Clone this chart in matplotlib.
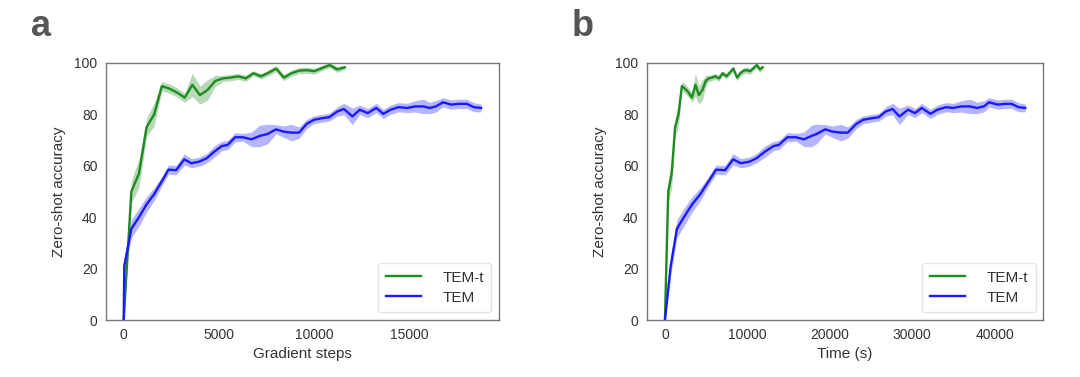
import matplotlib
matplotlib.use("Agg")
import matplotlib.pyplot as plt

plt.rcParams['font.family'] = ['Liberation Sans', 'DejaVu Sans']

# TEM-t (green) -- gradient steps / time (s), mean accuracy and band half-width
temt_steps = [0, 400, 800, 1200, 1600, 2000, 2400, 2800, 3200, 3600, 4000, 4400, 4800, 5200, 5600,
              6000, 6400, 6800, 7200, 7600, 8000, 8400, 8800, 9200, 9600, 10000, 10400, 10800, 11200, 11600]
temt_time = [0, 400, 820, 1230, 1650, 2050, 2450, 2870, 3280, 3700, 4120, 4550, 4950, 5300, 5700,
             6100, 6550, 7000, 7450, 7850, 8300, 8750, 9150, 9550, 9950, 10350, 10750, 11150, 11500, 11850]
temt_acc = [0, 50, 57, 75, 80, 91, 90, 88.5, 86.5, 91.5, 87.5, 89.5, 93, 94, 94.3,
            94.8, 94, 96, 94.8, 96.2, 97.8, 94.3, 96, 97, 97.2, 96.8, 98, 99.2, 97.5, 98.3]
temt_err = [0, 4.5, 5.5, 3.5, 4.5, 1.8, 1.8, 1.8, 1.8, 4.5, 3.5, 4, 2.2, 1.2, 1.2,
            1.2, 1.2, 1, 1, 1.2, 1.2, 1.2, 1.2, 1.2, 1.2, 1.2, 1, 1, 1.2, 0.8]

# TEM (blue)
tem_steps = [0, 30, 400, 800, 1200, 1600, 2000, 2350, 2750, 3180, 3550, 3950, 4350, 4750, 5150,
             5450, 5850, 6250, 6700, 7130, 7560, 7990, 8380, 8800, 9200, 9600, 9980, 10400, 10780,
             11200, 11550, 12000, 12380, 12800, 13250, 13620, 14000, 14420, 14860, 15300, 15720,
             16050, 16380, 16750, 17180, 17600, 18000, 18370, 18750]
tem_time = [0, 700, 1450, 2300, 3300, 4300, 5300, 6200, 7300, 8280, 9200, 10250, 11090, 12130, 13180,
            13810, 14850, 15900, 16860, 17780, 18410, 19460, 20290, 21340, 22180, 23220, 24060, 25100,
            25940, 26780, 27620, 28450, 29500, 30330, 31170, 32220, 33050, 34100, 34940, 35980, 37030,
            37870, 38700, 39330, 40380, 41210, 42050, 42890, 43720]
tem_acc = [0, 21, 35.5, 40, 45, 49, 54, 58.5, 58.3, 62.5, 61, 61.6, 62.9, 65.5, 67.7,
           68.1, 71.1, 71.1, 70.3, 71.6, 72.4, 74.2, 73.3, 72.9, 72.9, 76.3, 77.9, 78.5, 78.9,
           81.1, 82.1, 79.2, 81.8, 80.5, 82.5, 80.2, 81.8, 82.8, 82.5, 83.1, 83.1,
           82.5, 83.1, 84.7, 83.8, 84.1, 84.1, 82.8, 82.5]
tem_err = [0, 3.5, 3.5, 3.5, 3, 2.5, 1.8, 1.8, 1.8, 2.2, 1.8, 1.8, 1.8, 2.2, 1.8,
           1.8, 1.8, 1.5, 2.8, 4.2, 3.8, 1.8, 2.2, 3.2, 2.2, 1.8, 1.5, 1.5, 1.5,
           1.8, 2.2, 3.2, 1.8, 1.8, 1.8, 1.8, 1.8, 1.8, 1.8, 2.2, 2.8,
           2.2, 2.2, 1.8, 1.8, 1.8, 1.8, 1.8, 1.5]

fig = plt.figure(figsize=(10.8, 3.77), dpi=100)
ax_a = fig.add_axes([0.098, 0.151, 0.364, 0.682])
ax_b = fig.add_axes([0.599, 0.151, 0.367, 0.682])


def band(ax, x, y, e, color, label):
    lo = [m - d for m, d in zip(y, e)]
    hi = [m + d for m, d in zip(y, e)]
    ax.fill_between(x, lo, hi, color=color, alpha=0.32, linewidth=0)
    ax.plot(x, y, color=color, lw=1.7, label=label)


for ax, xg, xb, xlabel, ticks in [
        (ax_a, temt_steps, tem_steps, 'Gradient steps', [0, 5000, 10000, 15000]),
        (ax_b, temt_time, tem_time, 'Time (s)', [0, 10000, 20000, 30000, 40000])]:
    band(ax, xg, temt_acc, temt_err, '#1f8a1f', 'TEM-t')
    band(ax, xb, tem_acc, tem_err, '#1a1aff', 'TEM')
    ax.set_ylim(0, 100)
    ax.margins(x=0.05)
    ax.set_xticks(ticks)
    ax.set_yticks([0, 20, 40, 60, 80, 100])
    ax.tick_params(length=0, labelsize=10, labelcolor='#333333', pad=6)
    for s in ax.spines.values():
        s.set_color('#777777')
        s.set_linewidth(1.0)
    ax.set_xlabel(xlabel, fontsize=11, color='#333333', labelpad=3)
    ax.set_ylabel('Zero-shot accuracy', fontsize=11, color='#333333', labelpad=6)
    leg = ax.legend(loc='lower right', fontsize=11, handlelength=2.3, borderpad=0.5,
                    labelspacing=0.4, handletextpad=1.4, borderaxespad=0.5, fancybox=True)
    leg.get_frame().set_edgecolor('#dddddd')
    for t in leg.get_texts():
        t.set_color('#333333')

fig.text(0.029, 0.905, 'a', fontsize=26, fontweight='bold', color='#555555')
fig.text(0.529, 0.905, 'b', fontsize=26, fontweight='bold', color='#555555')

fig.savefig('out.png', dpi=100, facecolor='white')
